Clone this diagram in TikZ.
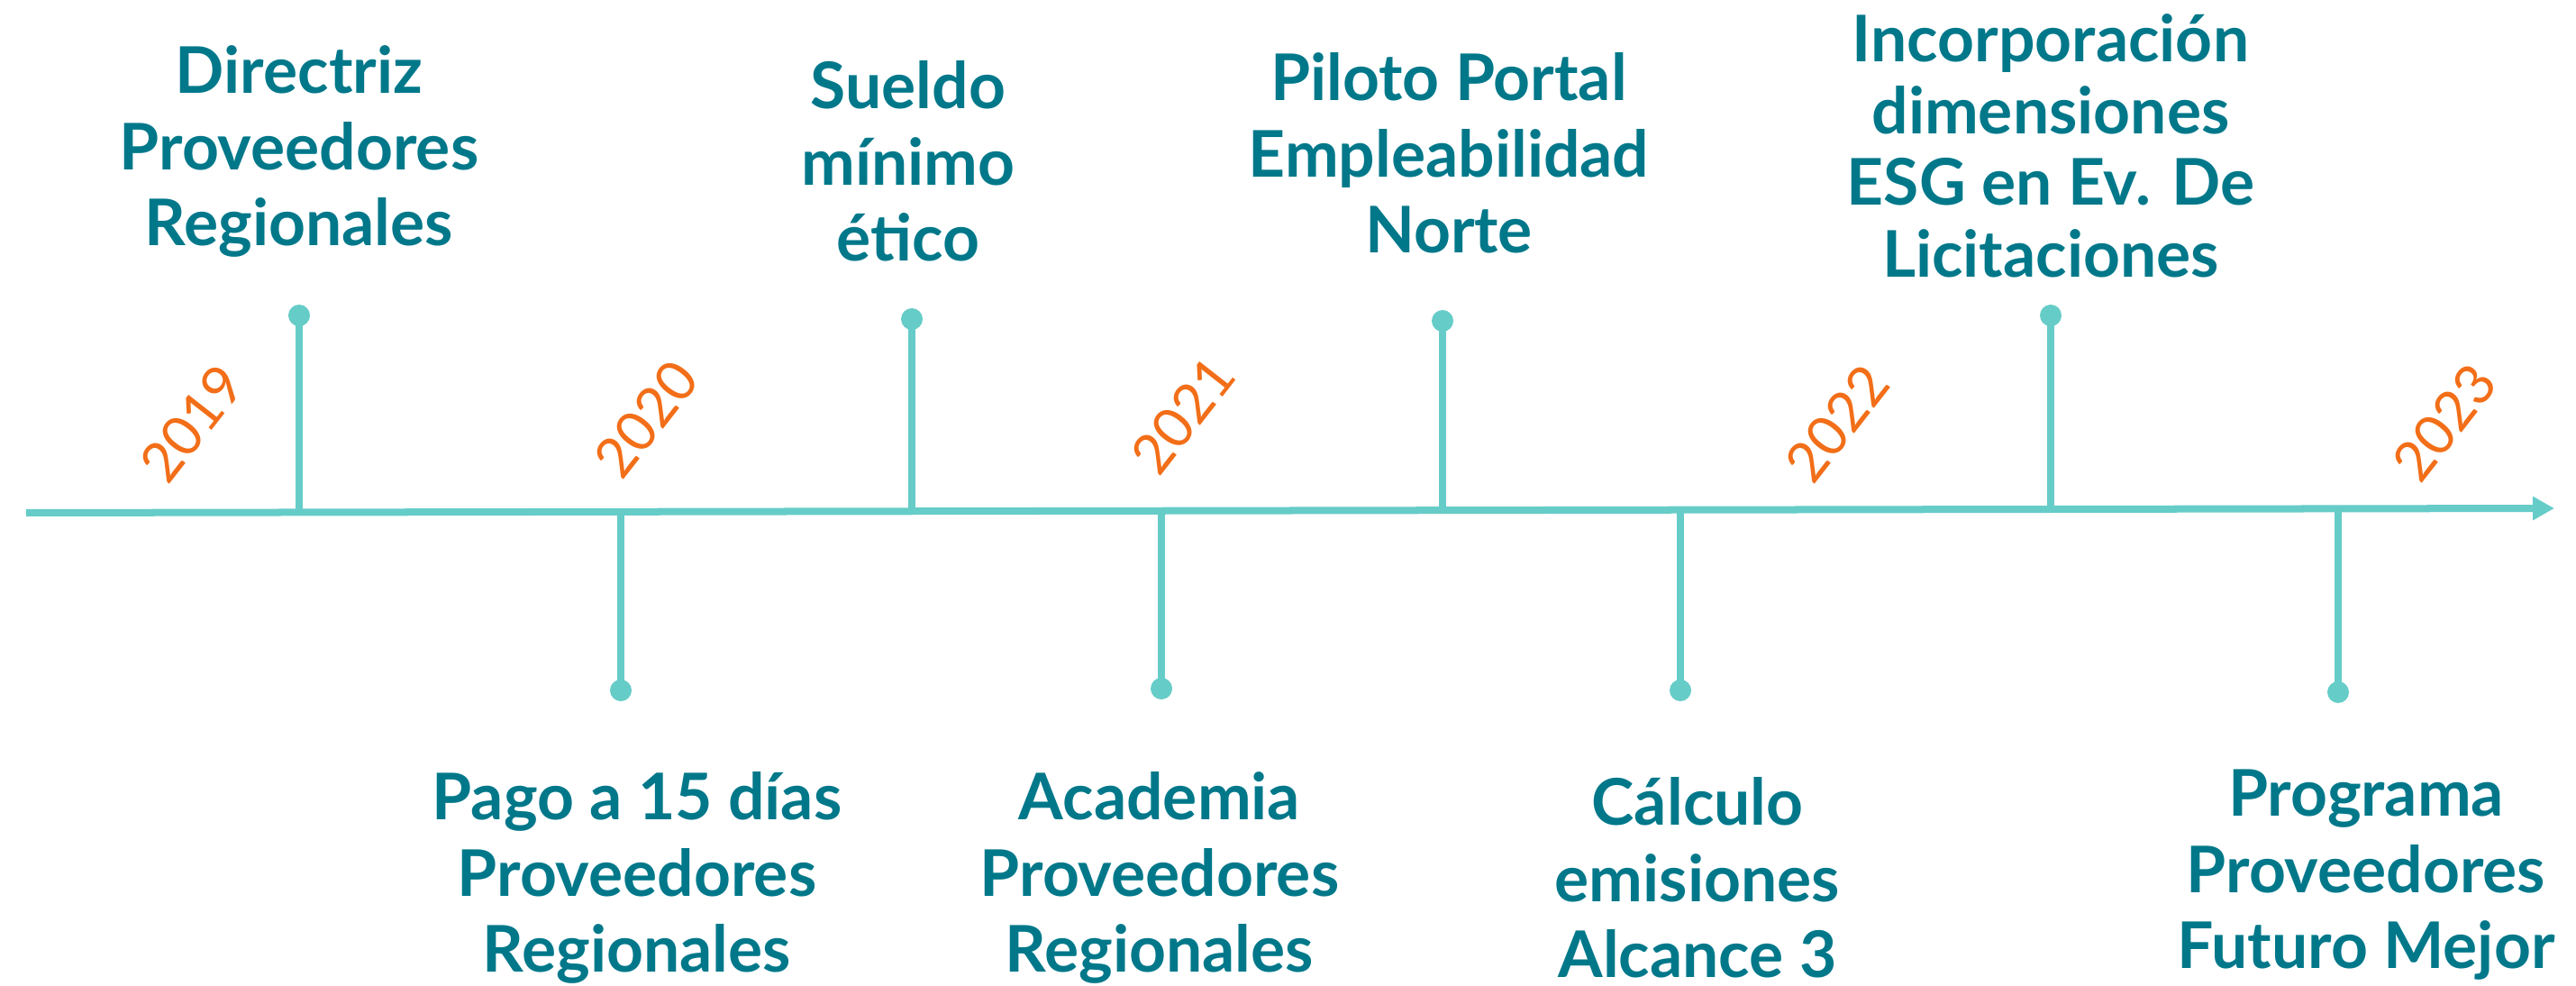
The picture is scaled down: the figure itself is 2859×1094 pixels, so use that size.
\documentclass[tikz,border=0pt]{standalone}
\usepackage{fontspec}
\setmainfont{Lato}
\usetikzlibrary{arrows.meta}
\definecolor{teal}{RGB}{0,120,138}
\definecolor{linec}{RGB}{102,204,200}
\definecolor{yearc}{RGB}{242,110,24}
\begin{document}
\begin{tikzpicture}[x=0.01cm,y=-0.01cm,
  stem/.style={draw=linec,line width=0.075cm},
  dotn/.style={circle,fill=linec,inner sep=0pt,minimum size=0.24cm},
  label/.style={align=center,text=teal,font=\fontsize{20.3}{24}\selectfont\bfseries},
  year/.style={text=yearc,rotate=52,font=\fontsize{17.5}{20}\selectfont}]
\useasboundingbox (0,0) rectangle (2859,1094);
% axis
\coordinate (a0) at (29,569);
\coordinate (a1) at (2835,564);
\draw[linec,line width=0.08cm,-{Triangle[length=0.24cm,width=0.25cm]}] (a0) -- (a1);
% top events
\node[dotn] (d1) at (332,350) {};
\node[dotn] (d2) at (1012,354) {};
\node[dotn] (d3) at (1601,356) {};
\node[dotn] (d4) at (2276,350) {};
% bottom events
\node[dotn] (d5) at (689,766) {};
\node[dotn] (d6) at (1289,764) {};
\node[dotn] (d7) at (1865,766) {};
\node[dotn] (d8) at (2595,768) {};
\coordinate (s1) at (332,569);
\coordinate (s2) at (1012,568);
\coordinate (s3) at (1601,567);
\coordinate (s4) at (2276,566);
\coordinate (s5) at (689,568);
\coordinate (s6) at (1289,567);
\coordinate (s7) at (1865,566);
\coordinate (s8) at (2595,565);
\foreach \i in {1,...,8} {\draw[stem] (s\i) -- (d\i.center);}
% labels
\node[label] (t1) at (332,168) {Directriz\\Proveedores\\Regionales};
\node[label] (t2) at (1008,179) {Sueldo\\mínimo\\ético};
\node[label] (t3) at (1608,170) {Piloto Portal\\Empleabilidad\\Norte};
\node[label,font=\fontsize{20.3}{22.6}\selectfont\bfseries] (t4) at (2276,162) {Incorporación\\dimensiones\\ESG en Ev. De\\Licitaciones};
\node[label] (t5) at (707,974) {Pago a 15 días\\Proveedores\\Regionales};
\node[label] (t6) at (1287,974) {Academia\\Proveedores\\Regionales};
\node[label] (t7) at (1884,974) {Cálculo\\emisiones\\Alcance 3};
\node[label] (t8) at (2626,971) {Programa\\Proveedores\\Futuro Mejor};
% years
\node[year] (y1) at (213,470) {2019};
\node[year] (y2) at (717,465) {2020};
\node[year] (y3) at (1313,461) {2021};
\node[year] (y4) at (2039,470) {2022};
\node[year] (y5) at (2713,469) {2023};
\end{tikzpicture}
\end{document}
